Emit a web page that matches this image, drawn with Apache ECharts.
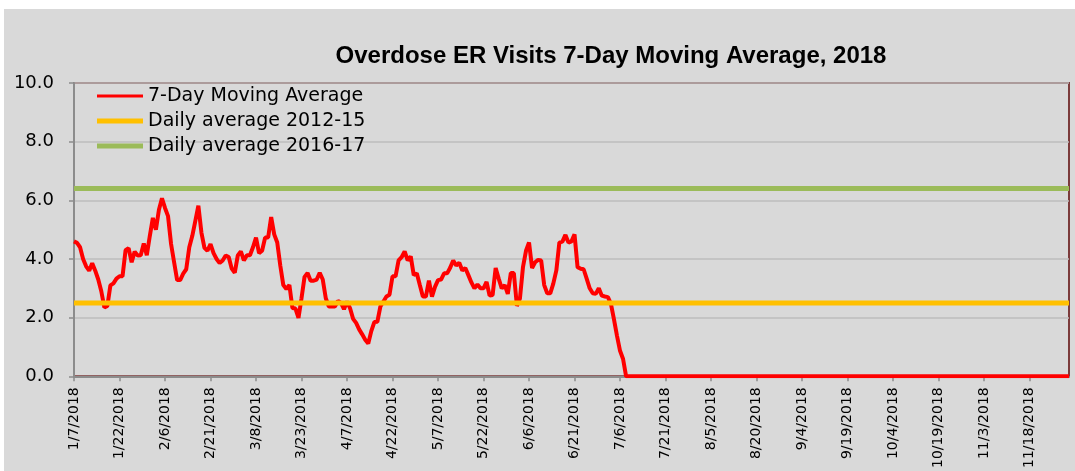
<!DOCTYPE html>
<html>
<head>
<meta charset="utf-8">
<script src="https://cdn.jsdelivr.net/npm/echarts@6/dist/echarts.min.js"></script>
<style>
html,body{margin:0;padding:0;background:#ffffff;}
#chart{position:absolute;left:4px;top:9px;width:1071px;height:462px;background:#d9d9d9;}
</style>
</head>
<body>
<div id="chart"></div>
<script>
// ---- Data ----
var titleText = 'Overdose ER Visits 7-Day Moving Average, 2018';
var seriesNames = ['7-Day Moving Average', 'Daily average 2012-15', 'Daily average 2016-17'];
var startDate = [2018, 1, 7];   // first category (1/7/2018)
var dayCount = 329;             // categories through 12/1/2018
var labelEvery = 15;            // one tick label every 15 days

// 7-day moving average, daily values (from 1/7/2018)
var movingAvg = [
  4.6, 4.55, 4.4, 4.0, 3.75, 3.6, 3.85, 3.6, 3.3, 2.9,
  2.35, 2.4, 3.1, 3.17, 3.33, 3.41, 3.41, 4.3, 4.37, 3.89,
  4.25, 4.12, 4.13, 4.53, 4.13, 4.79, 5.4, 5.0, 5.68, 6.07,
  5.74, 5.46, 4.51, 3.89, 3.28, 3.28, 3.5, 3.65, 4.4, 4.79,
  5.3, 5.82, 4.9, 4.38, 4.28, 4.51, 4.2, 4.0, 3.86, 3.95,
  4.12, 4.07, 3.67, 3.53, 4.12, 4.26, 3.95, 4.13, 4.13, 4.4,
  4.73, 4.2, 4.28, 4.73, 4.73, 5.43, 4.84, 4.56, 3.78, 3.11,
  2.98, 3.11, 2.33, 2.31, 1.99, 2.66, 3.39, 3.52, 3.26, 3.26,
  3.3, 3.53, 3.3, 2.66, 2.38, 2.38, 2.38, 2.57, 2.5, 2.29,
  2.55, 2.32, 1.96, 1.82, 1.6, 1.43, 1.25, 1.12, 1.54, 1.85,
  1.86, 2.38, 2.55, 2.72, 2.78, 3.41, 3.41, 3.95, 4.06, 4.26,
  3.95, 4.09, 3.45, 3.51, 3.11, 2.72, 2.72, 3.26, 2.72, 3.05,
  3.28, 3.3, 3.51, 3.51, 3.7, 3.95, 3.78, 3.87, 3.61, 3.69,
  3.45, 3.2, 3.0, 3.13, 3.0, 3.0, 3.22, 2.75, 2.77, 3.69,
  3.33, 3.0, 3.11, 2.81, 3.52, 3.52, 2.4, 2.65, 3.72, 4.28,
  4.56, 3.69, 3.89, 3.97, 3.95, 3.11, 2.83, 2.83, 3.16, 3.61,
  4.56, 4.59, 4.82, 4.56, 4.6, 4.84, 3.72, 3.67, 3.65, 3.33,
  3.0, 2.83, 2.81, 3.0, 2.75, 2.72, 2.7, 2.47, 1.94, 1.38,
  0.87, 0.59, 0
];
var avg2012to15 = 2.5;   // daily average 2012-15
var avg2016to17 = 6.4;   // daily average 2016-17
var yTicks = [0, 2, 4, 6, 8, 10];

// ---- Categories ----
var categories = [];
(function(){
  var d = new Date(startDate[0], startDate[1]-1, startDate[2]);
  for (var i = 0; i < dayCount; i++) {
    categories.push((d.getMonth()+1) + '/' + d.getDate() + '/' + d.getFullYear());
    d.setDate(d.getDate()+1);
  }
})();

var redData = categories.map(function(c, i){ return i < movingAvg.length ? movingAvg[i] : 0; });
var orangeData = categories.map(function(){ return avg2012to15; });
var greenData = categories.map(function(){ return avg2016to17; });

var chart = echarts.init(document.getElementById('chart'), null, {renderer:'canvas'});
var font = 'DejaVu Sans';
function legendFor(name, h, top){
  return {
    data:[name], left:93, top:top, padding:0, orient:'vertical',
    icon:'rect', itemWidth:46, itemHeight:h, itemGap:0,
    textStyle:{fontFamily:font, fontSize:19, color:'#000', lineHeight:20},
    selectedMode:false
  };
}
chart.setOption({
  backgroundColor:'#d9d9d9',
  animation:false,
  title:{
    text:titleText, left:607, top:35, padding:0, textAlign:'center',
    textStyle:{fontFamily:'Liberation Sans', fontWeight:'bold', fontSize:24, color:'#000'}
  },
  legend:[
    legendFor(seriesNames[0], 3, 77),
    legendFor(seriesNames[1], 5, 102),
    legendFor(seriesNames[2], 5, 127)
  ],
  grid:{left:70, top:74, right:6, bottom:90, show:true, borderColor:'#7b3b3b', borderWidth:2, backgroundColor:'transparent', containLabel:false},
  xAxis:{
    type:'category', data:categories, boundaryGap:false,
    axisLine:{show:true, lineStyle:{color:'#8c8c8c', width:2}},
    axisTick:{show:true, interval:labelEvery-1, length:5, lineStyle:{color:'#8c8c8c', width:1.5}},
    axisLabel:{interval:labelEvery-1, rotate:90, margin:11, fontFamily:font, fontSize:14, color:'#000'},
    splitLine:{show:false}
  },
  yAxis:{
    type:'value', min:yTicks[0], max:yTicks[yTicks.length-1], interval:yTicks[1]-yTicks[0],
    axisLine:{show:true, lineStyle:{color:'#8c8c8c', width:2}},
    axisTick:{show:true, length:5, lineStyle:{color:'#8c8c8c', width:1.5}},
    axisLabel:{margin:20, fontFamily:font, fontSize:18, color:'#000', formatter:function(v){return v.toFixed(1);}},
    splitLine:{show:true, lineStyle:{color:'#bdbdbd', width:1.5}}
  },
  series:[
    {name:seriesNames[0], type:'line', data:redData, symbol:'none', color:'#ff0000', lineStyle:{color:'#ff0000', width:4}},
    {name:seriesNames[1], type:'line', data:orangeData, symbol:'none', color:'#ffc000', lineStyle:{color:'#ffc000', width:5}},
    {name:seriesNames[2], type:'line', data:greenData, symbol:'none', color:'#9bbb59', lineStyle:{color:'#9bbb59', width:5}}
  ]
});
</script>
</body>
</html>
